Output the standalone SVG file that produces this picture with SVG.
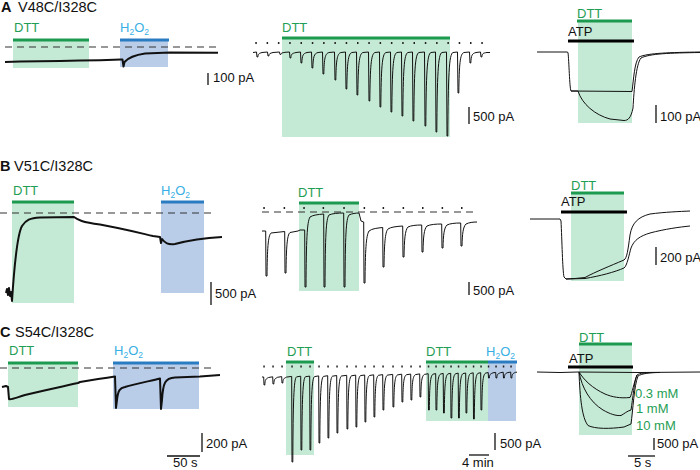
<svg xmlns="http://www.w3.org/2000/svg" width="700" height="470" viewBox="0 0 700 470">
<style>
text{font-family:"Liberation Sans",Arial,sans-serif;font-size:13px;fill:#111}
.t{font-size:14.5px}
.b{font-weight:bold}
.g{fill:#1f9e55}
.h{fill:#38afe4}
.gf{fill:#c4e9d4}
.bf{fill:#b9cde9}
.gb{stroke:#1c9a50;stroke-width:3;fill:none}
.bb{stroke:#2a7cc2;stroke-width:3;fill:none}
.kb{stroke:#000;stroke-width:3;fill:none}
.tr{stroke:#111;stroke-width:1;fill:none;stroke-linejoin:round}
.tk{stroke:#111;stroke-width:2;fill:none;stroke-linejoin:round}
.sb{stroke:#111;stroke-width:1.3;fill:none}
.ds{stroke:#333;stroke-width:1.2;fill:none;stroke-dasharray:7 5}
.dot{fill:#222}
</style>
<defs>
<rect id="d" class="dot" x="-0.7" y="-1" width="1.5" height="2"/>
</defs>

<!-- ===== Panel A ===== -->
<g id="panelA">
<text x="1" y="12" class="t b">A</text>
<text x="18" y="12" class="t">V48C/I328C</text>
<g id="A1">
<rect class="gf" x="13" y="40" width="76" height="28"/>
<rect class="bf" x="120" y="40" width="48" height="27"/>
<line class="gb" x1="13" y1="40" x2="89" y2="40"/>
<line class="bb" x1="120" y1="40" x2="169" y2="40"/>
<text x="14" y="32" class="g">DTT</text>
<text x="120" y="32" class="h">H<tspan font-size="8.5" dy="3">2</tspan><tspan dy="-3">O</tspan><tspan font-size="8.5" dy="3">2</tspan></text>
<line class="ds" x1="5" y1="47" x2="218" y2="47" stroke="#666"/>
<path class="tk" d="M5,62 L20,61.6 L40,61.3 L60,61 L80,60.6 L100,60.2 L121,59.6 L122.5,59.6 L123.5,66.5 L124.5,62 C128,58 135,55 145,53.5 L170,52.6 L218,52.8"/>
<line class="sb" x1="208" y1="73" x2="208" y2="85"/>
<text x="213" y="82">100 pA</text>
</g>
<g id="A2">
<rect class="gf" x="282" y="38" width="168" height="99"/>
<line class="gb" x1="282" y1="38" x2="450" y2="38"/>
<text x="282" y="32" class="g">DTT</text>
<g>
<use href="#d" x="256" y="43"/><use href="#d" x="267.3" y="43"/><use href="#d" x="278.6" y="43"/><use href="#d" x="289.9" y="43"/><use href="#d" x="301.2" y="43"/><use href="#d" x="312.5" y="43"/><use href="#d" x="323.8" y="43"/><use href="#d" x="335.1" y="43"/><use href="#d" x="346.4" y="43"/><use href="#d" x="357.7" y="43"/><use href="#d" x="369" y="43"/><use href="#d" x="380.3" y="43"/><use href="#d" x="391.6" y="43"/><use href="#d" x="402.9" y="43"/><use href="#d" x="414.2" y="43"/><use href="#d" x="425.5" y="43"/><use href="#d" x="436.8" y="43"/><use href="#d" x="448.1" y="43"/><use href="#d" x="459.4" y="43"/><use href="#d" x="470.7" y="43"/><use href="#d" x="482" y="43"/>
</g>
<path class="tr" d="M253,52.5 L256.5,52 L257,57 L257.8,57 C258.2,53.5 259,53.5 262,52.5 L267.5,52 L268,56 L268.8,56 C269.2,53.2 270,53.5 273,52.5 L279.5,52 L280,54.5 L280.8,54.5 C281.2,52.8 282,53 285,52.3 L289.5,52 L290,58 L290.8,58 C291.2,53.8 292,53.5 296,52.5 L300.5,52 L301,63 L301.8,63 C302.2,55.3 303,53.5 307,52.5 L311.5,52 L312,68 L312.8,68 C313.2,56.8 314,53.5 318,52.5 L322.5,52 L323,74 L323.8,74 C324.2,58.6 325,53.5 329,52.5 L334.5,52 L335,80 L335.8,80 C336.2,60.4 337,53.5 341,52.5 L345.5,52 L346,89 L346.8,89 C347.2,63.1 348,53.5 352,52.5 L356.5,52 L357,95 L357.8,95 C358.2,64.9 359,53.5 363,52.5 L368.5,52 L369,101 L369.8,101 C370.2,66.7 371,53.5 375,52.5 L379.5,52 L380,107 L380.8,107 C381.2,68.5 382,53.5 386,52.5 L390.5,52 L391,112 L391.8,112 C392.2,70 393,53.5 397,52.5 L401.5,52 L402,116 L402.8,116 C403.2,71.2 404,53.5 408,52.5 L412.5,52 L413,121 L413.8,121 C414.2,72.7 415,53.5 419,52.5 L424.5,52 L425,126 L425.8,126 C426.2,74.2 427,53.5 431,52.5 L435.5,52 L436,132 L436.8,132 C437.2,76 438,53.5 442,52.5 L446.5,52 L447,136 L447.8,136 C448.2,77.2 449,53.5 453,52.5 L457.5,52 L458,93 L458.8,93 C459.2,64.3 460,53.5 464,52.5 L469.5,52 L470,63 L470.8,63 C471.2,55.3 472,53.5 476,52.5 L480.5,52 L481,57 L481.8,57 C482.2,53.5 483,53 487,52.5 L490,52.5"/>
<line class="sb" x1="469" y1="107" x2="469" y2="124"/>
<text x="473" y="121">500 pA</text>
</g>
<g id="A3">
<rect class="gf" x="578" y="21" width="54" height="102"/>
<line class="gb" x1="577" y1="21" x2="632" y2="21"/>
<line class="kb" x1="568" y1="41" x2="634" y2="41"/>
<text x="577" y="18" class="g">DTT</text>
<text x="568" y="36">ATP</text>
<path class="tr" stroke-width="1.4" d="M537,52 L567,52 L568,52.5 C569,60 569.5,88 571,91 L632,91.5 C633.5,80 634.5,62 639,57 C648,53 670,52.5 700,52"/>
<path class="tr" stroke-width="1.4" d="M571,91 L578,91 C582,104 595,115 610,119 L624,120.5 C628,120.5 631,118 633,108 C634,90 636,64 641,58 C650,53.5 670,53 700,52.5"/>
<line class="sb" x1="656" y1="105" x2="656" y2="123"/>
<text x="660" y="121">100 pA</text>
</g>
</g>

<!-- ===== Panel B ===== -->
<g id="panelB">
<text x="0" y="171" class="t b">B</text>
<text x="14" y="171" class="t">V51C/I328C</text>
<g id="B1">
<rect class="gf" x="12" y="202" width="62" height="101"/>
<rect class="bf" x="161" y="202" width="43" height="91"/>
<line class="gb" x1="12" y1="202" x2="74" y2="202"/>
<line class="bb" x1="161" y1="202" x2="204" y2="202"/>
<text x="13" y="195" class="g">DTT</text>
<text x="161" y="195" class="h">H<tspan font-size="8.5" dy="3">2</tspan><tspan dy="-3">O</tspan><tspan font-size="8.5" dy="3">2</tspan></text>
<line class="ds" x1="0" y1="213" x2="215" y2="213"/>
<path class="tk" stroke-width="1.6" d="M6,293 L7,289 L8,295 L9,288 L10,296 L11,292 L12,301 C14,270 17,235 22,226 C26,220 30,218 40,217.5 L74,217 C78,220 82,222 100,224.5 C120,228 140,233 153,236 L160,237 L161,243 L162,239 C165,243 168,245 175,244 C190,240 205,238 222,237"/>
<line class="sb" x1="211" y1="282" x2="211" y2="305"/>
<text x="215" y="298">500 pA</text>
</g>
<g id="B2">
<rect class="gf" x="299" y="203" width="60" height="88"/>
<line class="gb" x1="299" y1="203" x2="359" y2="203"/>
<text x="298" y="197" class="g">DTT</text>
<line class="ds" x1="262" y1="212" x2="477" y2="212" stroke-dasharray="6 4"/>
<g>
<use href="#d" x="264" y="208"/><use href="#d" x="284.3" y="208"/><use href="#d" x="304" y="208"/><use href="#d" x="323.3" y="208"/><use href="#d" x="344" y="208"/><use href="#d" x="364.3" y="208"/><use href="#d" x="383.3" y="208"/><use href="#d" x="403.3" y="208"/><use href="#d" x="422.7" y="208"/><use href="#d" x="442.3" y="208"/><use href="#d" x="461.7" y="208"/>
</g>
<path class="tr" d="M262,231 L265.7,231 L266,276 L267,276 C267.3,249 268,236 271,233 L284.7,231.5 L285,273 L286,273 C286.3,248 287,235 290,232.5 L298,231 L300,230 L304.7,230 L305,287 L306,287 C306.3,240 307,222 310,217 C313,215 318,214.5 323.7,214 L324,287 L325,287 C325.3,235 326,219 329,215 C332,213.5 338,213 343.7,213 L344,287 L345,287 C345.3,235 346,219 349,215 C352,213.5 356,213 359,213 L361,221 L363.7,222 L364,283 L365,283 C365.3,250 366,236 369,231 C372,228.5 378,228 382.7,227.5 L383,267 L384,267 C384.3,245 385,232 388,229 C391,227 396,226.5 402.7,226 L403,257 L404,257 C404.3,240 405,230 408,227 C411,225.5 416,225 421.7,225 L422,252 L423,252 C423.3,237 424,229 427,226 C430,224.5 436,224 441.7,224 L442,248 L443,248 C443.3,235 444,228 447,225 C450,223.5 455,223 460.7,223 L461,246 L462,246 C462.3,234 463,227 466,224 C469,222.5 473,222 477,222"/>
<line class="sb" x1="469" y1="282" x2="469" y2="295"/>
<text x="473" y="295">500 pA</text>
</g>
<g id="B3">
<rect class="gf" x="571" y="193" width="53" height="88"/>
<line class="gb" x1="571" y1="193" x2="624" y2="193"/>
<line class="kb" x1="561" y1="212" x2="627" y2="212"/>
<text x="571" y="190" class="g">DTT</text>
<text x="561" y="206">ATP</text>
<path class="tr" stroke-width="1.4" d="M530,219 L560,219 L561,221 C562,240 562.5,270 564,277 L566,279 L575,278.5 L585,277.5 C595,272 610,266 624,260 C627,258 628,250 630,235 C632,223 638,217 650,214 C665,212 680,211.5 690,211"/>
<path class="tr" stroke-width="1.4" d="M566,279 L585,278.5 C600,276 615,272 624,268 C627,266 629,255 631,248 C634,240 640,236 650,233 C665,229 680,227 690,226"/>
<line class="sb" x1="656" y1="247" x2="656" y2="265"/>
<text x="660" y="262">200 pA</text>
</g>
</g>

<!-- ===== Panel C ===== -->
<g id="panelC">
<text x="0" y="337" class="t b">C</text>
<text x="15" y="337" class="t">S54C/I328C</text>
<g id="C1">
<rect class="gf" x="8" y="363" width="70" height="44"/>
<rect class="bf" x="113" y="363" width="86" height="46"/>
<line class="gb" x1="8" y1="363" x2="78" y2="363"/>
<line class="bb" x1="113" y1="363" x2="199" y2="363"/>
<text x="9" y="355" class="g">DTT</text>
<text x="114" y="355" class="h">H<tspan font-size="8.5" dy="3">2</tspan><tspan dy="-3">O</tspan><tspan font-size="8.5" dy="3">2</tspan></text>
<line class="ds" x1="0" y1="368" x2="215" y2="368"/>
<path class="tk" stroke-width="1.6" d="M2,387 L6,386 L8,387 L9,399 C11,400 15,398 25,395 C45,390 65,386 78,383 L80,382 C90,380 105,378 115,376.5 L116,408 L117,400 C118,390 120,388 125,387 C135,384 150,381 160,378.5 L161,409 L162,400 C163,383 165,378 175,377.5 L200,376.5 L220,375"/>
<line class="sb" x1="202" y1="433" x2="202" y2="452"/>
<line class="sb" x1="167" y1="456" x2="200" y2="456"/>
<text x="206" y="448">200 pA</text>
<text x="173" y="467">50 s</text>
</g>
<g id="C2">
<rect class="gf" x="286" y="362" width="28" height="93"/>
<rect class="gf" x="426" y="362" width="62" height="59"/>
<rect class="bf" x="488" y="362" width="28" height="59"/>
<line class="gb" x1="286" y1="362" x2="314" y2="362"/>
<line class="gb" x1="426" y1="362" x2="488" y2="362"/>
<line class="bb" x1="488" y1="362" x2="517" y2="362"/>
<text x="287" y="356" class="g">DTT</text>
<text x="426" y="356" class="g">DTT</text>
<text x="486" y="356" class="h">H<tspan font-size="8.5" dy="3">2</tspan><tspan dy="-3">O</tspan><tspan font-size="8.5" dy="3">2</tspan></text>
<g>
<use href="#d" x="264" y="366.5"/><use href="#d" x="273" y="366.5"/><use href="#d" x="282" y="366.5"/><use href="#d" x="292" y="366.5"/><use href="#d" x="301" y="366.5"/><use href="#d" x="310" y="366.5"/><use href="#d" x="319" y="366.5"/><use href="#d" x="328" y="366.5"/><use href="#d" x="337" y="366.5"/><use href="#d" x="347" y="366.5"/><use href="#d" x="356" y="366.5"/><use href="#d" x="365" y="366.5"/><use href="#d" x="374" y="366.5"/><use href="#d" x="383" y="366.5"/><use href="#d" x="393" y="366.5"/><use href="#d" x="402" y="366.5"/><use href="#d" x="411" y="366.5"/><use href="#d" x="420" y="366.5"/><use href="#d" x="428.5" y="366.5"/><use href="#d" x="436" y="366.5"/><use href="#d" x="443.5" y="366.5"/><use href="#d" x="451" y="366.5"/><use href="#d" x="458.5" y="366.5"/><use href="#d" x="466" y="366.5"/><use href="#d" x="473.5" y="366.5"/><use href="#d" x="481" y="366.5"/><use href="#d" x="488.5" y="366.5"/><use href="#d" x="496" y="366.5"/><use href="#d" x="503.5" y="366.5"/><use href="#d" x="511" y="366.5"/>
</g>
<path class="tr" d="M262,377 L263.7,377 L264,385 L264.8,385 C265.1,379.4 265.8,379 268.5,377.5 L272.7,376.8 L273,384 L273.8,384 C274.1,379 274.8,378.8 277.5,377.3 L281.7,376.6 L282,383 L282.8,383 C283.1,378.5 283.8,378.6 286.5,377.1 L291.7,376.4 L292,462 L292.8,462 C293.1,402 293.8,378.4 296.5,376.9 L300.7,376.2 L301,450 L301.8,450 C302.1,398.3 302.8,378.2 305.5,376.7 L309.7,376.1 L310,450 L310.8,450 C311.1,398.3 311.8,378.1 314.5,376.6 L318.7,375.9 L319,443 L319.8,443 C320.1,396 320.8,377.9 323.5,376.4 L327.7,375.7 L328,438 L328.8,438 C329.1,394.4 329.8,377.7 332.5,376.2 L336.7,375.5 L337,433 L337.8,433 C338.1,392.8 338.8,377.5 341.5,376 L346.7,375.3 L347,429 L347.8,429 C348.1,391.4 348.8,377.3 351.5,375.8 L355.7,375.1 L356,427 L356.8,427 C357.1,390.7 357.8,377.1 360.5,375.6 L364.7,375 L365,422 L365.8,422 C366.1,389.1 366.8,377 369.5,375.5 L373.7,374.8 L374,417 L374.8,417 C375.1,387.5 375.8,376.8 378.5,375.3 L382.7,374.6 L383,410 L383.8,410 C384.1,385.2 384.8,376.6 387.5,375.1 L392.7,374.4 L393,407 L393.8,407 C394.1,384.2 394.8,376.4 397.5,374.9 L401.7,374.2 L402,402 L402.8,402 C403.1,382.5 403.8,376.2 406.5,374.7 L410.7,374.1 L411,400 L411.8,400 C412.1,381.9 412.8,376.1 415.5,374.6 L419.7,373.9 L420,397 L420.8,397 C421.1,380.8 421.8,375.9 424.5,374.4 L428.2,373.7 L428.5,410 L429.3,410 C429.6,384.6 430.3,375.7 433,374.2 L435.7,373.6 L436,410 L436.8,410 C437.1,384.5 437.8,375.6 440.5,374.1 L443.2,373.4 L443.5,413 L444.3,413 C444.6,385.3 445.3,375.4 448,373.9 L450.7,373.3 L451,418 L451.8,418 C452.1,386.7 452.8,375.3 455.5,373.8 L458.2,373.1 L458.5,418 L459.3,418 C459.6,386.6 460.3,375.1 463,373.6 L465.7,373 L466,413 L466.8,413 C467.1,385 467.8,375 470.5,373.5 L473.2,372.8 L473.5,419 L474.3,419 C474.6,386.7 475.3,374.8 478,373.3 L480.7,372.7 L481,410 L481.8,410 C482.1,383.9 482.8,374.7 485.5,373.2 L488.2,372.5 L488.5,378 L489.3,378 C489.6,374.2 490.3,374 493,372.8 L495.7,372.4 L496,378 L496.8,378 C497.1,374.1 497.8,373.8 500.5,372.7 L503.2,372.2 L503.5,378 L504.3,378 C504.6,374 505.3,373.6 508,372.5 L510.7,372.1 L511,378 L511.8,378 C512.1,373.9 512.8,373.5 515.5,372.3 L517,372.2"/>
<line class="sb" x1="495" y1="433" x2="495" y2="450"/>
<line class="sb" x1="469" y1="455" x2="489" y2="455"/>
<text x="500" y="448">500 pA</text>
<text x="462" y="467">4 min</text>
</g>
<g id="C3">
<rect class="gf" x="579" y="344" width="53" height="91"/>
<line class="gb" x1="579" y1="344" x2="632" y2="344"/>
<line class="kb" x1="568" y1="367" x2="633" y2="367"/>
<text x="579" y="342" class="g">DTT</text>
<text x="569" y="363">ATP</text>
<path class="tr" stroke-width="1.4" d="M537,372 L560,372.5 L578,372 L640,372.5 L700,372"/>
<path class="tr" stroke-width="1.3" d="M579,372 C584,380 592,388 605,394 C612,397 620,398.5 630,397.5 C632,394 634,382 637,375 C640,373 645,372.5 660,372.5"/>
<path class="tr" stroke-width="1.3" d="M579,372 C582,388 590,402 603,410 C610,414 616,416 621,415.5 C624,414 627,411 631,410 C633,398 634,382 637,375"/>
<path class="tr" stroke-width="1.3" d="M579,372 C580,398 582,418 588,425.5 C595,429 610,429 624,427 L631,424 C633,410 634,386 638,376 C642,373.5 650,372.5 660,372.5"/>
<text x="635" y="398" class="g">0.3 mM</text>
<text x="636" y="413" class="g">1 mM</text>
<text x="636" y="430" class="g">10 mM</text>
<line class="sb" x1="654" y1="438" x2="654" y2="450"/>
<line class="sb" x1="628" y1="456" x2="655" y2="456"/>
<text x="657" y="448">500 pA</text>
<text x="634" y="467">5 s</text>
</g>
</g>
</svg>
